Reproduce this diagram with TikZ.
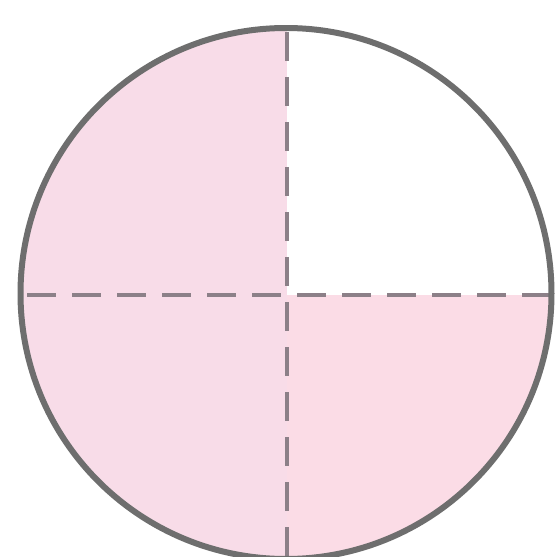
\documentclass[tikz,border=0pt]{standalone}
\definecolor{rim}{HTML}{6E6E6E}
\definecolor{pinkL}{HTML}{F8DCE8}
\definecolor{pinkR}{HTML}{FBDCE6}
\definecolor{dashgray}{HTML}{8C8088}
\tikzset{
  rimline/.style={draw=rim, line width=6pt},
  divider/.style={draw=dashgray, line width=3.5pt, dash pattern=on 29pt off 16pt},
}
\begin{document}
\begin{tikzpicture}[x=1pt,y=1pt]
\useasboundingbox (0,0) rectangle (558,-557);
\fill[white] (0,0) rectangle (558,-557);
\coordinate (c) at (286,-293.5);
\def\R{265.5}
\begin{scope}
  \clip (c) circle (\R);
  \fill[pinkL] (0,0) rectangle (287,-600);
  \fill[pinkR] (287,-295) rectangle (600,-600);
\end{scope}
\coordinate (hl) at (23,-295);
\coordinate (hr) at (549,-295);
\coordinate (vt) at (287,-30);
\coordinate (vb) at (287,-557);
\draw[divider, dash phase=-4pt] (hl) -- (hr);
\draw[divider, dash phase=-2pt] (vt) -- (vb);
\draw[rimline] (c) circle (\R);
\end{tikzpicture}
\end{document}
